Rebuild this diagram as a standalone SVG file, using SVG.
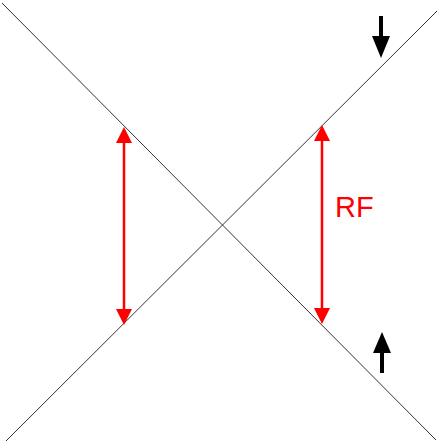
<svg xmlns="http://www.w3.org/2000/svg" width="438" height="441" viewBox="0 0 438 441">
<style>
.ln{stroke:#333;stroke-width:1;fill:none}
.red{stroke:#f00;stroke-width:2.5;fill:none}
.blk{stroke:#000;stroke-width:4;fill:none}
</style>
<rect width="438" height="441" fill="#fff"/>
<g id="connectors">
<line class="ln" x1="2" y1="3" x2="436" y2="440"/>
<line class="ln" x1="6" y1="441" x2="437" y2="11"/>
<line class="red" x1="124" y1="140" x2="124" y2="310"/>
<polygon points="124,127 116,143 132,143" fill="#f00"/>
<polygon points="124,325 116,309 132,309" fill="#f00"/>
<line class="red" x1="322" y1="140" x2="322" y2="310"/>
<polygon points="322,125 314,141 330,141" fill="#f00"/>
<polygon points="322,324 314,308 330,308" fill="#f00"/>
<line class="blk" x1="381" y1="16" x2="381" y2="40"/>
<polygon points="381,58 372,36 390,36" fill="#000"/>
<line class="blk" x1="382" y1="350" x2="382" y2="373"/>
<polygon points="382,332 373,353 391,353" fill="#000"/>
</g>
<g id="label-rf">
<text x="335" y="217" font-family="Liberation Sans, Arial, sans-serif" font-size="29" fill="#f00">RF</text>
</g>
</svg>
